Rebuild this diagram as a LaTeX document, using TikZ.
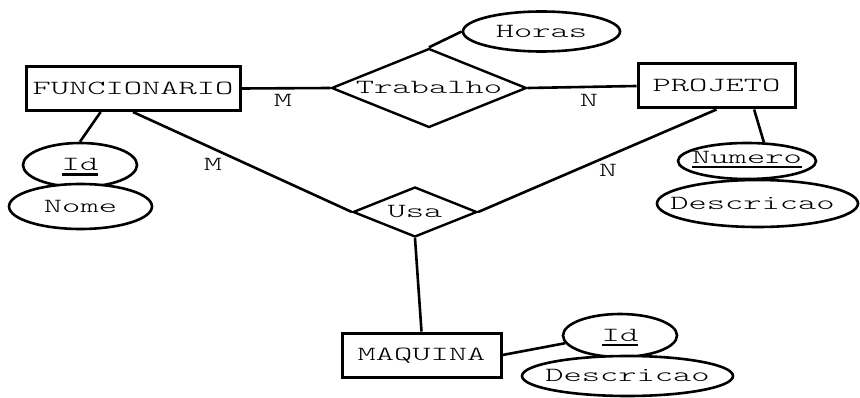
\documentclass[tikz,border=0pt]{standalone}
\usepackage{fontspec}
\newfontfamily\erfont{Latin Modern Mono Light}[FakeStretch=1.74]
\usetikzlibrary{shapes.geometric}
% key attribute: text with a thick rule below it
\newcommand\keyattr[1]{\setbox0\hbox{#1}\rlap{\raisebox{-5pt}[0pt][0pt]{\rule{\wd0}{2.4pt}}}\box0}
% zero-width label, so the shape size comes from the style alone
\newcommand\zw[1]{\makebox[0pt]{#1}}
\begin{document}
\begin{tikzpicture}[x=1pt,y=-1pt,line width=2.6pt,
  every node/.style={font=\erfont\fontsize{20}{24}\selectfont,inner sep=0pt,text height=11.5pt,text depth=0pt},
  entity/.style={draw,rectangle,line width=3pt,minimum height=44pt},
  rel/.style={draw,diamond,line width=2.4pt,fill=white},
  attr/.style={draw,ellipse,line width=2.6pt,fill=white},
  card/.style={}]
\useasboundingbox (0,0) rectangle (860,398);

% entities
\node[entity,minimum width=214pt] (func) at (133,88.5) {FUNCIONARIO};
\node[entity,minimum width=157pt] (proj) at (716.5,86) {PROJETO};
\node[entity,minimum width=159pt] (maq) at (421.5,355) {MAQUINA};

% relationships
\node[rel,aspect=2.47,minimum width=195pt,minimum height=79pt] (trab) at (429,88) {Trabalho};
\node[rel,aspect=2.48,minimum width=124pt,minimum height=50pt] (usa) at (415,212) {Usa};

% attributes
\node[attr,minimum width=157pt,minimum height=40pt] (horas) at (541.5,31.5) {\zw{Horas}};
\node[attr,minimum width=114pt,minimum height=44pt] (fid) at (80,165) {\zw{\keyattr{Id}}};
\node[attr,minimum width=143pt,minimum height=45pt] (fnome) at (80.5,206.5) {\zw{Nome}};
\node[attr,minimum width=138pt,minimum height=36pt] (pnum) at (747,161) {\zw{\raisebox{3.5pt}{\keyattr{Numero}}}};
\node[attr,minimum width=201pt,minimum height=47pt] (pdesc) at (757.5,203.5) {\zw{Descricao\kern10pt}};
\node[attr,minimum width=114pt,minimum height=43pt] (mid) at (620,335.5) {\zw{\keyattr{Id}}};
\node[attr,minimum width=211pt,minimum height=40pt] (mdesc) at (627.5,376) {\zw{Descricao}};

% cardinalities
\node[card] (c1) at (283,101) {M};
\node[card] (c2) at (589,101) {N};
\node[card] (c3) at (213,165) {M};
\node[card] (c4) at (608,171) {N};

% connectors
\draw (func.east) -- (trab.west);
\draw (trab.east) -- (proj.west);
\draw (trab.north) -- (horas.west);
\draw (func.south) -- (usa.west);
\draw (proj.south) -- (usa.east);
\draw (usa.south) -- (maq.north);
\draw (func.216) -- (fid.north);
\draw (proj.-32) -- (pnum.48);
\draw (maq.east) -- (mid.188);
\end{tikzpicture}
\end{document}
